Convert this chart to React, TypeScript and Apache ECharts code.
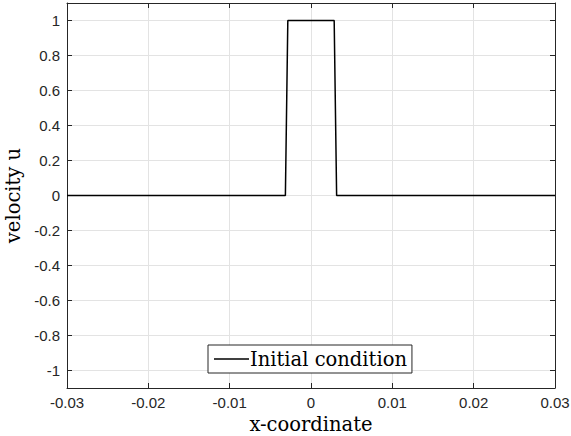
import React, { useEffect, useRef } from "react";
import * as echarts from "echarts";

const xPoints = [-0.03, -0.00315, -0.00285, 0.00285, 0.00315, 0.03];
const uValues = [0, 0, 1, 1, 0, 0];
const xTicks = [-0.03, -0.02, -0.01, 0, 0.01, 0.02, 0.03];
const yTicks = [-1, -0.8, -0.6, -0.4, -0.2, 0, 0.2, 0.4, 0.6, 0.8, 1];
const seriesName = "Initial condition";

export default function App() {
  const ref = useRef<HTMLDivElement>(null);
  useEffect(() => {
    if (!ref.current) return;
    const chart = echarts.init(ref.current, undefined, { renderer: "svg" });
    const axisColor = "#262626";
    const gridColor = "#e3e3e3";
    const tickFont = { fontFamily: "Liberation Sans, Arial, sans-serif", fontSize: 15, color: "#262626" };
    const nameFont = { fontFamily: "DejaVu Serif, serif", fontSize: 19.5, color: "#000" };
    const baseX = {
      type: "value" as const,
      min: -0.03,
      max: 0.03,
      axisLine: { onZero: false, lineStyle: { color: axisColor, width: 1 } },
      axisTick: { inside: true, length: 5, customValues: xTicks, lineStyle: { color: axisColor } },
    };
    const baseY = {
      type: "value" as const,
      min: -1.1,
      max: 1.1,
      axisLine: { onZero: false, show: true, lineStyle: { color: axisColor, width: 1 } },
      axisTick: { show: true, inside: true, length: 5, customValues: yTicks, lineStyle: { color: axisColor } },
    };
    chart.setOption({
      animation: false,
      grid: { left: 67, right: 16, top: 3, bottom: 48, containLabel: false, outerBoundsMode: "none" },
      xAxis: [
        {
          ...baseX,
          position: "bottom",
          name: "x-coordinate",
          nameLocation: "middle",
          nameGap: 25,
          nameTextStyle: nameFont,
          axisLabel: { customValues: xTicks, margin: 7, ...tickFont },
          splitLine: { show: true, lineStyle: { color: gridColor, width: 1 } },
        },
        {
          ...baseX,
          position: "top",
          axisLabel: { show: false },
          splitLine: { show: false },
        },
      ],
      yAxis: [
        {
          ...baseY,
          position: "left",
          name: "velocity u",
          nameLocation: "middle",
          nameGap: 41,
          nameTextStyle: nameFont,
          axisLabel: { customValues: yTicks, margin: 7, ...tickFont },
          splitLine: { show: true, lineStyle: { color: gridColor, width: 1 } },
        },
        {
          ...baseY,
          position: "right",
          axisLabel: { show: false },
          splitLine: { show: false },
        },
      ],
      legend: {
        left: 208,
        top: 345,
        data: [seriesName],
        icon: "rect",
        itemWidth: 35,
        itemHeight: 1.5,
        padding: [4, 5, 4, 6],
        backgroundColor: "#fff",
        borderColor: axisColor,
        borderWidth: 1,
        borderRadius: 0,
        textStyle: { fontFamily: "DejaVu Serif, serif", fontSize: 19.5, color: "#000", padding: [0, 0, 0, -4] },
      },
      series: [
        {
          name: seriesName,
          type: "line",
          xAxisIndex: 0,
          yAxisIndex: 0,
          data: xPoints.map((x, i) => [x, uValues[i]]),
          showSymbol: false,
          symbol: "none",
          lineStyle: { color: "#000", width: 1.5 },
          itemStyle: { color: "#000" },
        },
      ],
    });
    return () => chart.dispose();
  }, []);
  return <div ref={ref} style={{ width: 571, height: 436, position: "absolute", left: 0, top: 0 }} />;
}
